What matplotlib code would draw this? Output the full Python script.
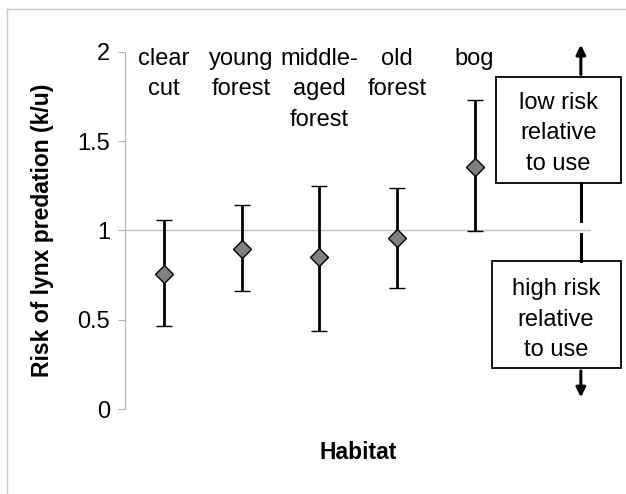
import matplotlib
matplotlib.use('Agg')
import matplotlib.pyplot as plt
from matplotlib.patches import Rectangle
from matplotlib.lines import Line2D

plt.rcParams['font.family'] = ['Liberation Sans', 'DejaVu Sans']

# habitat categories and risk estimates (k/u) with confidence limits
habitats = ['clear\ncut', 'young\nforest', 'middle-\naged\nforest', 'old\nforest', 'bog']
risk = [0.755, 0.895, 0.849, 0.955, 1.354]
upper = [1.061, 1.143, 1.250, 1.237, 1.733]
lower = [0.464, 0.662, 0.438, 0.675, 0.995]

yticks = [0, 0.5, 1, 1.5, 2]
yticklabels = ['0', '0.5', '1', '1.5', '2']

fig = plt.figure(figsize=(6.26, 4.94), dpi=100)
ax = fig.add_axes([0.2, 0.172, 0.744, 0.723])

x = list(range(len(habitats)))
err_lo = [r - l for r, l in zip(risk, lower)]
err_hi = [u - r for r, u in zip(risk, upper)]

ax.axhline(1, color='#c0c0c0', lw=1, zorder=1)
ax.errorbar(x, risk, yerr=[err_lo, err_hi], fmt='D', color='black',
            mfc='#808080', mec='black', ms=9.5, mew=1, ecolor='black',
            elinewidth=2, capsize=6, capthick=2, zorder=3)

fs = 17
for xi, lab in zip(x, habitats):
    ax.text(xi, 2.022, lab, ha='center', va='top', fontsize=fs, linespacing=1.5)

ax.set_xlim(-0.5, 5.5)
ax.set_ylim(0, 2)
ax.set_yticks(yticks)
ax.set_yticklabels(yticklabels, fontsize=fs)
ax.set_xticks([])
for s in ['top', 'right', 'bottom']:
    ax.spines[s].set_visible(False)
ax.spines['left'].set_color('#b0b0b0')
ax.tick_params(axis='y', color='#b0b0b0', length=5, pad=6)

ax.set_ylabel('Risk of lynx predation (k/u)', fontsize=16.5, fontweight='bold', labelpad=17)
ax.set_xlabel('Habitat', fontsize=16.5, fontweight='bold', labelpad=23)

# explanatory boxes with arrows
ax_x = 5.37
ax.add_patch(Rectangle((4.28, 1.265), 1.61, 0.593, fill=False, ec='black', lw=1.3, clip_on=False, zorder=4))
ax.add_patch(Rectangle((4.23, 0.229), 1.66, 0.599, fill=False, ec='black', lw=1.3, clip_on=False, zorder=4))
ax.text(5.08, 1.543, 'low risk\nrelative\nto use', ha='center', va='center', fontsize=fs, linespacing=1.5)
ax.text(5.05, 0.50, 'high risk\nrelative\nto use', ha='center', va='center', fontsize=fs, linespacing=1.5)
ax.plot([ax_x, ax_x], [1.265, 1.052], color='black', lw=2.2, clip_on=False)
ax.plot([ax_x, ax_x], [0.979, 0.828], color='black', lw=2.2, clip_on=False)
ax.annotate('', xy=(ax_x, 2.055), xytext=(ax_x, 1.858), annotation_clip=False,
            arrowprops=dict(arrowstyle='-|>', color='black', lw=2.2, mutation_scale=14))
ax.annotate('', xy=(ax_x, 0.05), xytext=(ax_x, 0.229), annotation_clip=False,
            arrowprops=dict(arrowstyle='-|>', color='black', lw=2.2, mutation_scale=14))

# light frame around figure
fig.add_artist(Line2D([7/626, 1], [1 - 9/494, 1 - 9/494], color='#c8c8c8', lw=1))
fig.add_artist(Line2D([7/626, 7/626], [0, 1 - 9/494], color='#c8c8c8', lw=1))

fig.savefig('out.png', dpi=100)
